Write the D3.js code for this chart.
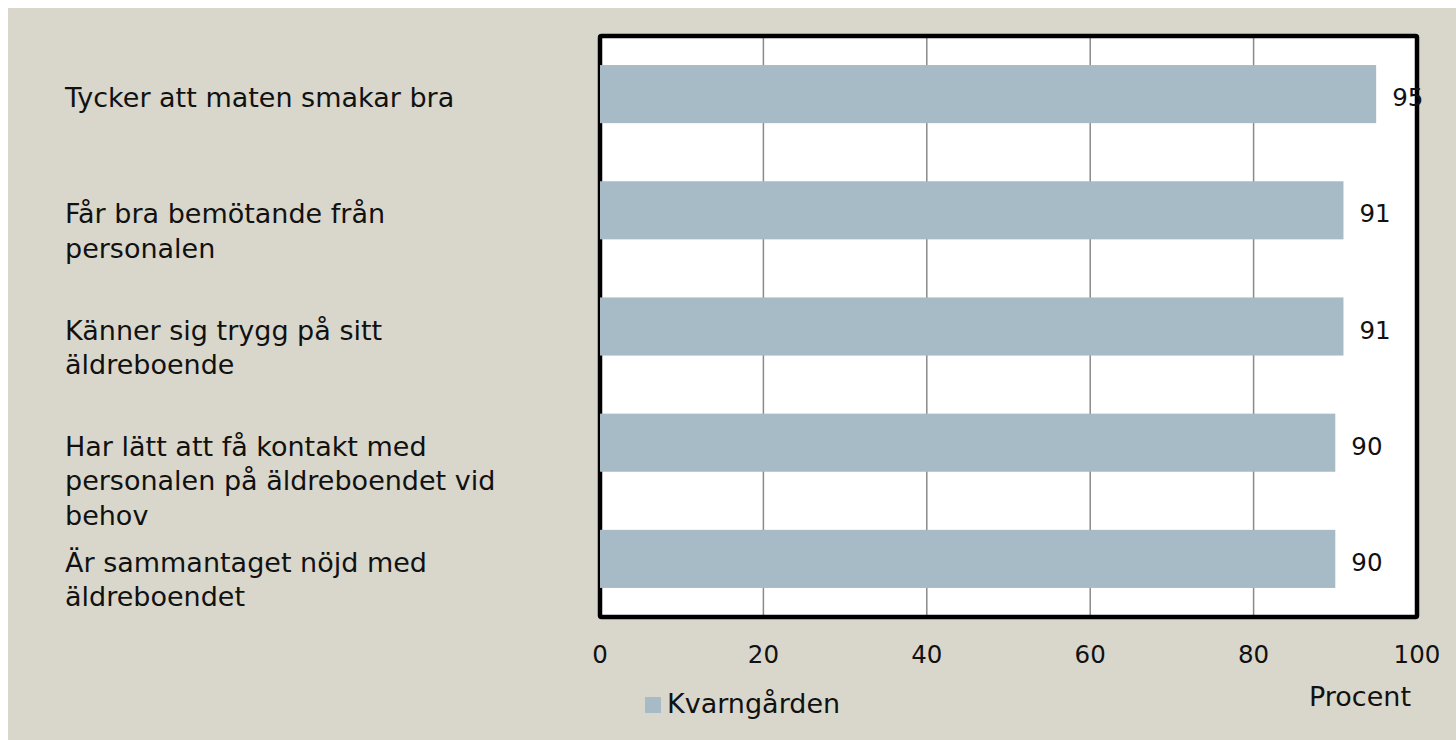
<!DOCTYPE html>
<html>
<head>
<meta charset="utf-8">
<script src="https://cdn.jsdelivr.net/npm/d3@7"></script>
<style>
  html, body { margin: 0; padding: 0; background: #ffffff; }
  svg { display: block; }
  text { font-family: "DejaVu Sans", sans-serif; fill: #111; }
</style>
</head>
<body>
<script>
// ---- data ----
const categories = [
  "Tycker att maten smakar bra",
  "Får bra bemötande från personalen",
  "Känner sig trygg på sitt äldreboende",
  "Har lätt att få kontakt med personalen på äldreboendet vid behov",
  "Är sammantaget nöjd med äldreboendet"
];
const categoryLines = [
  ["Tycker att maten smakar bra"],
  ["Får bra bemötande från", "personalen"],
  ["Känner sig trygg på sitt", "äldreboende"],
  ["Har lätt att få kontakt med", "personalen på äldreboendet vid", "behov"],
  ["Är sammantaget nöjd med", "äldreboendet"]
];
const values = [95, 91, 91, 90, 90];
const xTicks = [0, 20, 40, 60, 80, 100];
const seriesName = "Kvarngården";
const axisTitle = "Procent";

// ---- layout ----
const W = 1456, H = 740;
const plot = { left: 600, top: 36, right: 1417, bottom: 617 };
const FS = 27;      // words
const FSN = 24.5;   // numbers

const svg = d3.select("body").append("svg").attr("width", W).attr("height", H);
svg.append("rect").attr("x", 0).attr("y", 0).attr("width", W).attr("height", H).attr("fill", "#ffffff");
svg.append("rect").attr("x", 8).attr("y", 8).attr("width", W - 8).attr("height", H - 8).attr("fill", "#d9d7cb");

const x = d3.scaleLinear().domain([0, 100]).range([plot.left, plot.right]);
const y = d3.scaleBand().domain(categories).range([plot.top, plot.bottom]).paddingInner(0.5).paddingOuter(0.25);

// plot area
svg.append("rect").attr("x", plot.left).attr("y", plot.top)
  .attr("width", plot.right - plot.left).attr("height", plot.bottom - plot.top)
  .attr("fill", "#ffffff");

// gridlines
svg.append("g").selectAll("line").data(xTicks.filter(t => t > 0 && t < 100)).join("line")
  .attr("x1", d => x(d)).attr("x2", d => x(d))
  .attr("y1", plot.top).attr("y2", plot.bottom)
  .attr("stroke", "#8a8a8a").attr("stroke-width", 1.5);

// frame
svg.append("rect").attr("x", plot.left).attr("y", plot.top)
  .attr("width", plot.right - plot.left).attr("height", plot.bottom - plot.top)
  .attr("fill", "none").attr("stroke", "#000").attr("stroke-width", 4.5)
  .attr("stroke-linejoin", "round").attr("rx", 1.5);

// bars
svg.append("g").selectAll("rect").data(values).join("rect")
  .attr("x", x(0))
  .attr("y", (d, i) => y(categories[i]))
  .attr("width", d => x(d) - x(0))
  .attr("height", y.bandwidth())
  .attr("fill", "#a7bbc6");

// value labels
svg.append("g").selectAll("text").data(values).join("text")
  .attr("x", d => x(d) + 16)
  .attr("y", (d, i) => y(categories[i]) + y.bandwidth() / 2 + 12)
  .attr("font-size", FSN)
  .text(d => d);

// category labels
const cat = svg.append("g").selectAll("text").data(categoryLines).join("text")
  .attr("x", 65)
  .attr("y", (d, i) => y(categories[i]) + y.bandwidth() / 2 + 13)
  .attr("font-size", FS);
cat.selectAll("tspan").data(d => d).join("tspan")
  .attr("x", 65)
  .attr("dy", (d, j) => j === 0 ? 0 : 34.5)
  .text(d => d);

// x axis tick labels
svg.append("g").selectAll("text").data(xTicks).join("text")
  .attr("x", d => x(d))
  .attr("y", 663)
  .attr("text-anchor", "middle")
  .attr("font-size", FSN)
  .text(d => d);

// axis title
svg.append("text").attr("x", 1360).attr("y", 706).attr("text-anchor", "middle")
  .attr("font-size", FS).text(axisTitle);

// legend
svg.append("rect").attr("x", 645).attr("y", 697).attr("width", 16).attr("height", 16).attr("fill", "#a7bbc6");
svg.append("text").attr("x", 667).attr("y", 713).attr("font-size", FS).text(seriesName);
</script>
</body>
</html>
